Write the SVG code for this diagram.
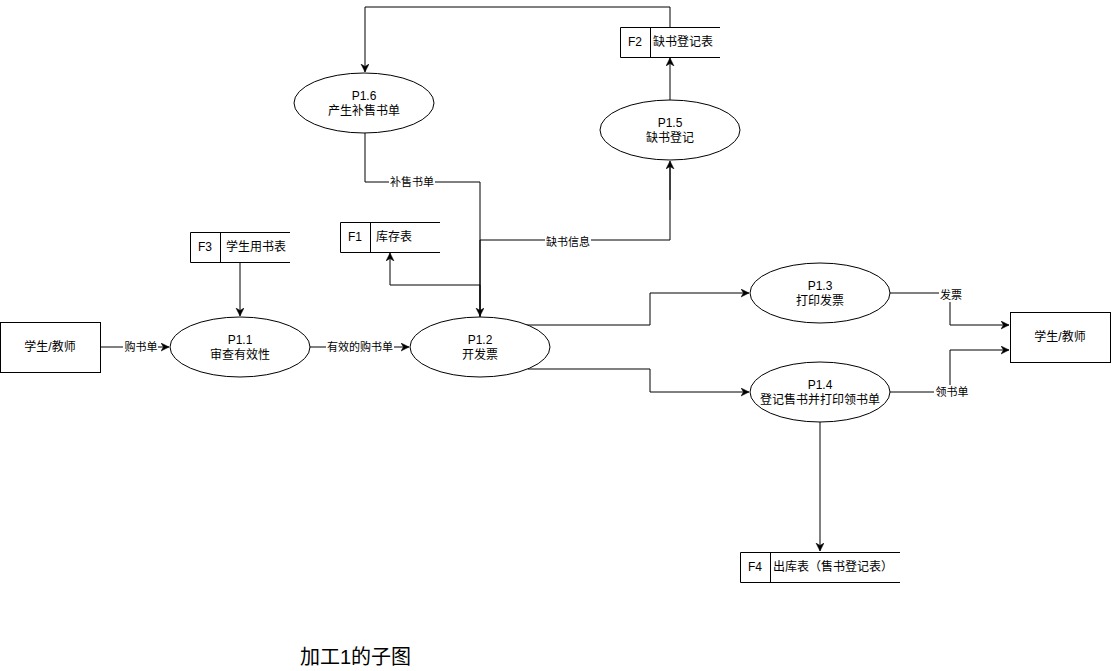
<svg xmlns="http://www.w3.org/2000/svg" width="1111" height="671" viewBox="0 0 1111 671">
<style>
text{font-family:"Liberation Sans","Noto Sans CJK SC",sans-serif;fill:#000;dominant-baseline:central}
.n{font-size:12px;text-anchor:middle}
.s{font-size:12px}
.l{font-size:11px;text-anchor:middle}
.shape{fill:#fff;stroke:#000;stroke-width:1}
.store{fill:none;stroke:#000;stroke-width:1}
.e{fill:none;stroke:#000;stroke-width:1;marker-end:url(#arr)}
.e0{fill:none;stroke:#000;stroke-width:1}
.lb{fill:#fff}
</style>
<defs>
<marker id="arr" markerUnits="userSpaceOnUse" markerWidth="10" markerHeight="10" refX="8" refY="4" orient="auto">
<path d="M0,0 L8,4 L0,8 L2.5,4 Z" fill="#000" stroke="#000" stroke-width="0.5"/>
</marker>
</defs>
<rect width="1111" height="671" fill="#fff"/>
<g id="connectors">
<polyline class="e" points="670,27 670,7 365,7 365,72"/>
<polyline class="e" points="670,100 670,58"/>
<polyline class="e0" points="480,317 480,240 670,240 670,165"/>
<polyline class="e" points="670,200 670,161"/>
<polyline class="e" points="480,317 480,285 390,285 390,253"/>
<polyline class="e" points="365,133 365,182 480,182 480,316"/>
<polyline class="e" points="240,262 240,316"/>
<polyline class="e" points="100,347 169,347"/>
<polyline class="e" points="310,347 409,347"/>
<polyline class="e" points="526,325 650,325 650,293 749,293"/>
<polyline class="e" points="528,369 650,369 650,392 749,392"/>
<polyline class="e" points="890,293 950,293 950,325 1009,325"/>
<polyline class="e" points="890,392 950,392 950,350 1009,350"/>
<polyline class="e" points="820,422 820,551"/>
<g id="edge-labels">
<rect class="lb" x="389" y="175" width="46" height="14"/>
<text class="l" x="412" y="182">补售书单</text>
<rect class="lb" x="545" y="235" width="46" height="14"/>
<text class="l" x="568" y="242">缺书信息</text>
<rect class="lb" x="123" y="340" width="35" height="14"/>
<text class="l" x="141" y="347">购书单</text>
<rect class="lb" x="326" y="340" width="68" height="14"/>
<text class="l" x="360" y="347">有效的购书单</text>
<rect class="lb" x="939" y="288" width="24" height="14"/>
<text class="l" x="951" y="295">发票</text>
<rect class="lb" x="934" y="385" width="36" height="14"/>
<text class="l" x="952" y="392">领书单</text>
</g>
</g>
<g id="ext-left">
<rect class="shape" x="0.5" y="322.5" width="100" height="50"/>
<text class="n" x="50" y="347">学生/教师</text>
</g>
<g id="ext-right">
<rect class="shape" x="1010.5" y="312.5" width="100" height="50"/>
<text class="n" x="1060" y="337">学生/教师</text>
</g>
<g id="p11">
<ellipse class="shape" cx="240" cy="347" rx="70" ry="30"/>
<text class="n" x="240" y="340">P1.1</text>
<text class="n" x="240" y="355">审查有效性</text>
</g>
<g id="p12">
<ellipse class="shape" cx="480" cy="347" rx="70" ry="30"/>
<text class="n" x="480" y="340">P1.2</text>
<text class="n" x="480" y="355">开发票</text>
</g>
<g id="p13">
<ellipse class="shape" cx="820" cy="293" rx="70" ry="30"/>
<text class="n" x="820" y="286">P1.3</text>
<text class="n" x="820" y="301">打印发票</text>
</g>
<g id="p14">
<ellipse class="shape" cx="820" cy="392" rx="70" ry="30"/>
<text class="n" x="820" y="385">P1.4</text>
<text class="n" x="820" y="400">登记售书并打印领书单</text>
</g>
<g id="p15">
<ellipse class="shape" cx="670" cy="130" rx="70" ry="30"/>
<text class="n" x="670" y="123">P1.5</text>
<text class="n" x="670" y="138">缺书登记</text>
</g>
<g id="p16">
<ellipse class="shape" cx="364" cy="103" rx="70" ry="30"/>
<text class="n" x="364" y="96">P1.6</text>
<text class="n" x="364" y="111">产生补售书单</text>
</g>
<g id="f1">
<path class="store" d="M440,222.5 H340.5 V252.5 H440 M370.5,222.5 V252.5"/>
<text class="n" x="355" y="237">F1</text>
<text class="s" x="376" y="237">库存表</text>
</g>
<g id="f2">
<path class="store" d="M720,27.5 H620.5 V57.5 H720 M650.5,27.5 V57.5"/>
<text class="n" x="635" y="42">F2</text>
<text class="s" x="653" y="42">缺书登记表</text>
</g>
<g id="f3">
<path class="store" d="M290,232.5 H190.5 V262.5 H290 M220.5,232.5 V262.5"/>
<text class="n" x="205" y="247">F3</text>
<text class="s" x="226" y="247">学生用书表</text>
</g>
<g id="f4">
<path class="store" d="M900,552.5 H740.5 V582.5 H900 M770.5,552.5 V582.5"/>
<text class="n" x="755" y="567">F4</text>
<text class="s" x="773" y="567">出库表（售书登记表）</text>
</g>
<g id="title">
<text x="300" y="657" style="font-size:20px">加工1的子图</text>
</g>
</svg>
